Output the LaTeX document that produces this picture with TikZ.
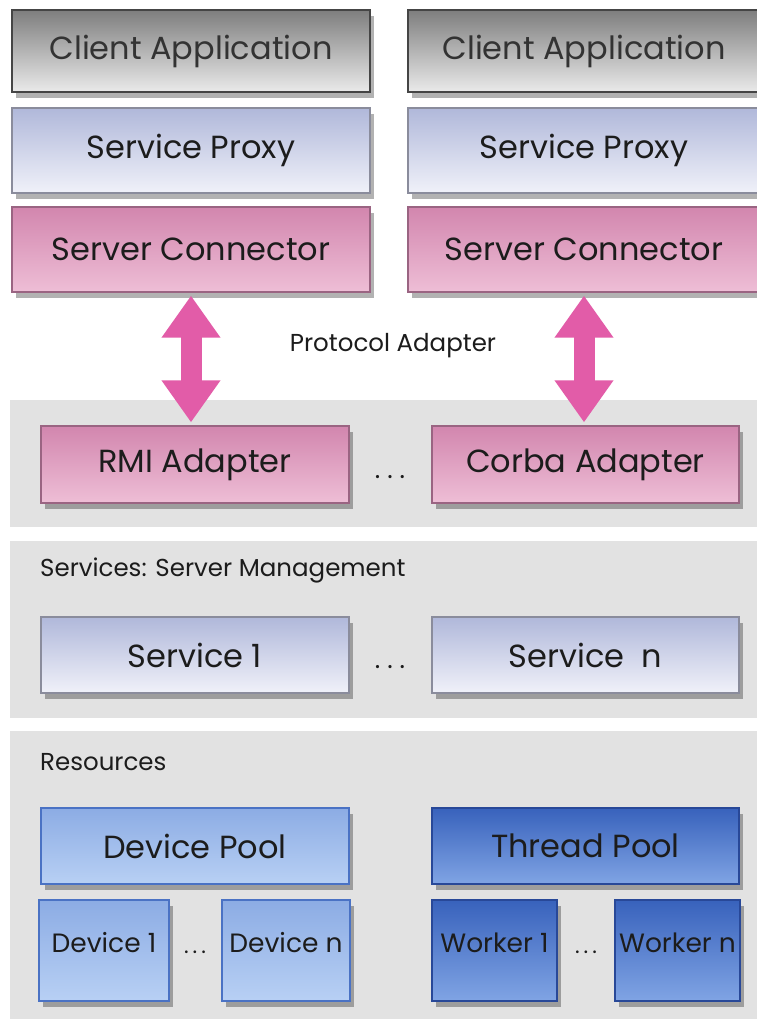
\documentclass[tikz,border=0pt]{standalone}
\usepackage{fontspec}
\setmainfont{Poppins}
\usetikzlibrary{shadows,arrows.meta}
\definecolor{band}{HTML}{E2E2E2}
\definecolor{caTop}{HTML}{7E7E7E}
\definecolor{caBot}{HTML}{EAEAEA}
\definecolor{caLine}{HTML}{454545}
\definecolor{spTop}{HTML}{B0B8DA}
\definecolor{spBot}{HTML}{F0F1F9}
\definecolor{spLine}{HTML}{8A8C9C}
\definecolor{scTop}{HTML}{D286AE}
\definecolor{scBot}{HTML}{EEBED6}
\definecolor{scLine}{HTML}{9A6482}
\definecolor{arrowPink}{HTML}{E25CA8}
\definecolor{dpTop}{HTML}{8CACE4}
\definecolor{dpBot}{HTML}{B8D0F4}
\definecolor{dpLine}{HTML}{4A72C4}
\definecolor{tpTop}{HTML}{3862BC}
\definecolor{tpBot}{HTML}{80A4E4}
\definecolor{tpLine}{HTML}{284898}
\definecolor{txt}{HTML}{1C1C1C}
\newcommand{\mydots}{.\kern7pt.\kern7pt.}
\begin{document}
\begin{tikzpicture}[x=1pt,y=-1pt,
  box/.style={draw, line width=1.2pt, inner sep=0pt, text=txt,
    drop shadow={shadow xshift=4pt, shadow yshift=-6pt, opacity=0.3, fill=black}},
  big/.style={font=\fontsize{32}{36}\selectfont},
  small/.style={font=\fontsize{26.5}{30}\selectfont},
  lbl/.style={font=\fontsize{24.5}{28}\selectfont, text=txt, inner sep=0pt},
  cabox/.style={box, big, draw=caLine, top color=caTop, bottom color=caBot, minimum height=82pt, text=black!80},
  spbox/.style={box, big, draw=spLine, top color=spTop, bottom color=spBot},
  scbox/.style={box, big, draw=scLine, top color=scTop, bottom color=scBot},
  dpbox/.style={box, draw=dpLine, top color=dpTop, bottom color=dpBot},
  tpbox/.style={box, draw=tpLine, top color=tpTop, bottom color=tpBot},
  link/.style={arrowPink, line width=21pt,
    {Triangle[width=56pt,length=42pt]}-{Triangle[width=56pt,length=42pt]}},
  dots/.style={font=\fontsize{26}{30}\selectfont, text=txt, inner sep=0pt, anchor=base}
]
\useasboundingbox (0,0) rectangle (757,1021);
\fill[white] (0,0) rectangle (757,1021);
% bands
\fill[band] (10,400) rectangle (757,527);
\fill[band] (10,541) rectangle (757,718);
\fill[band] (10,731) rectangle (757,1019);

% top stacks
\node[cabox, minimum width=358pt] (ca1) at (191,51) {Client Application};
\node[cabox, minimum width=352pt] (ca2) at (584,51) {Client Application};
\node[spbox, minimum width=358pt, minimum height=85pt] (sp1) at (191,150.5) {Service Proxy};
\node[spbox, minimum width=352pt, minimum height=85pt] (sp2) at (584,150.5) {Service Proxy};
\node[scbox, minimum width=358pt, minimum height=85pt] (sc1) at (191,249.5) {Server Connector};
\node[scbox, minimum width=352pt, minimum height=85pt] (sc2) at (584,249.5) {Server Connector};

% protocol adapters
\node[scbox, minimum width=308pt, minimum height=77pt] (rmi) at (195,464.5) {RMI Adapter};
\node[scbox, minimum width=307pt, minimum height=77pt] (corba) at (585.5,464.5) {Corba Adapter};
\node[dots] (pd) at (390,478) {\mydots};
\node[lbl] (pa) at (393,346) {Protocol Adapter};

\draw[link] ([yshift=-3pt]sc1.south) -- ([yshift=3pt]sc1.south |- rmi.north);
\draw[link] ([yshift=-3pt]sc2.south) -- ([yshift=3pt]sc2.south |- corba.north);

% services
\node[lbl, anchor=west] (sm) at (40,570) {Services: Server Management};
\node[spbox, minimum width=308pt, minimum height=76pt] (s1) at (195,655) {Service 1};
\node[spbox, minimum width=307pt, minimum height=76pt] (sn) at (585.5,655) {Service~~n};
\node[dots] (sd) at (390,668) {\mydots};

% resources
\node[lbl, anchor=west] (res) at (40,762) {Resources};
\node[dpbox, big, minimum width=308pt, minimum height=76pt] (dp) at (195,846) {Device Pool};
\node[tpbox, big, minimum width=307pt, minimum height=76pt] (tp) at (585.5,846) {Thread Pool};
\node[dpbox, minimum width=130pt, minimum height=101pt] (d1) at (104,950.5) {};
\node[small, text=txt] (d1t) at (104,943) {Device 1};
\node[dpbox, minimum width=128pt, minimum height=101pt] (dn) at (286,950.5) {};
\node[small, text=txt] (dnt) at (286,943) {Device n};
\node[tpbox, minimum width=125pt, minimum height=101pt] (w1) at (494.5,950.5) {};
\node[small, text=txt] (w1t) at (494.5,943) {Worker 1};
\node[tpbox, minimum width=125pt, minimum height=101pt] (wn) at (677.5,950.5) {};
\node[small, text=txt] (wnt) at (677.5,943) {Worker n};
\node[dots, font=\fontsize{22}{26}\selectfont] (dd) at (195,953) {.\kern4pt.\kern4pt.};
\node[dots, font=\fontsize{22}{26}\selectfont] (wd) at (586,953) {.\kern4pt.\kern4pt.};
\end{tikzpicture}
\end{document}
